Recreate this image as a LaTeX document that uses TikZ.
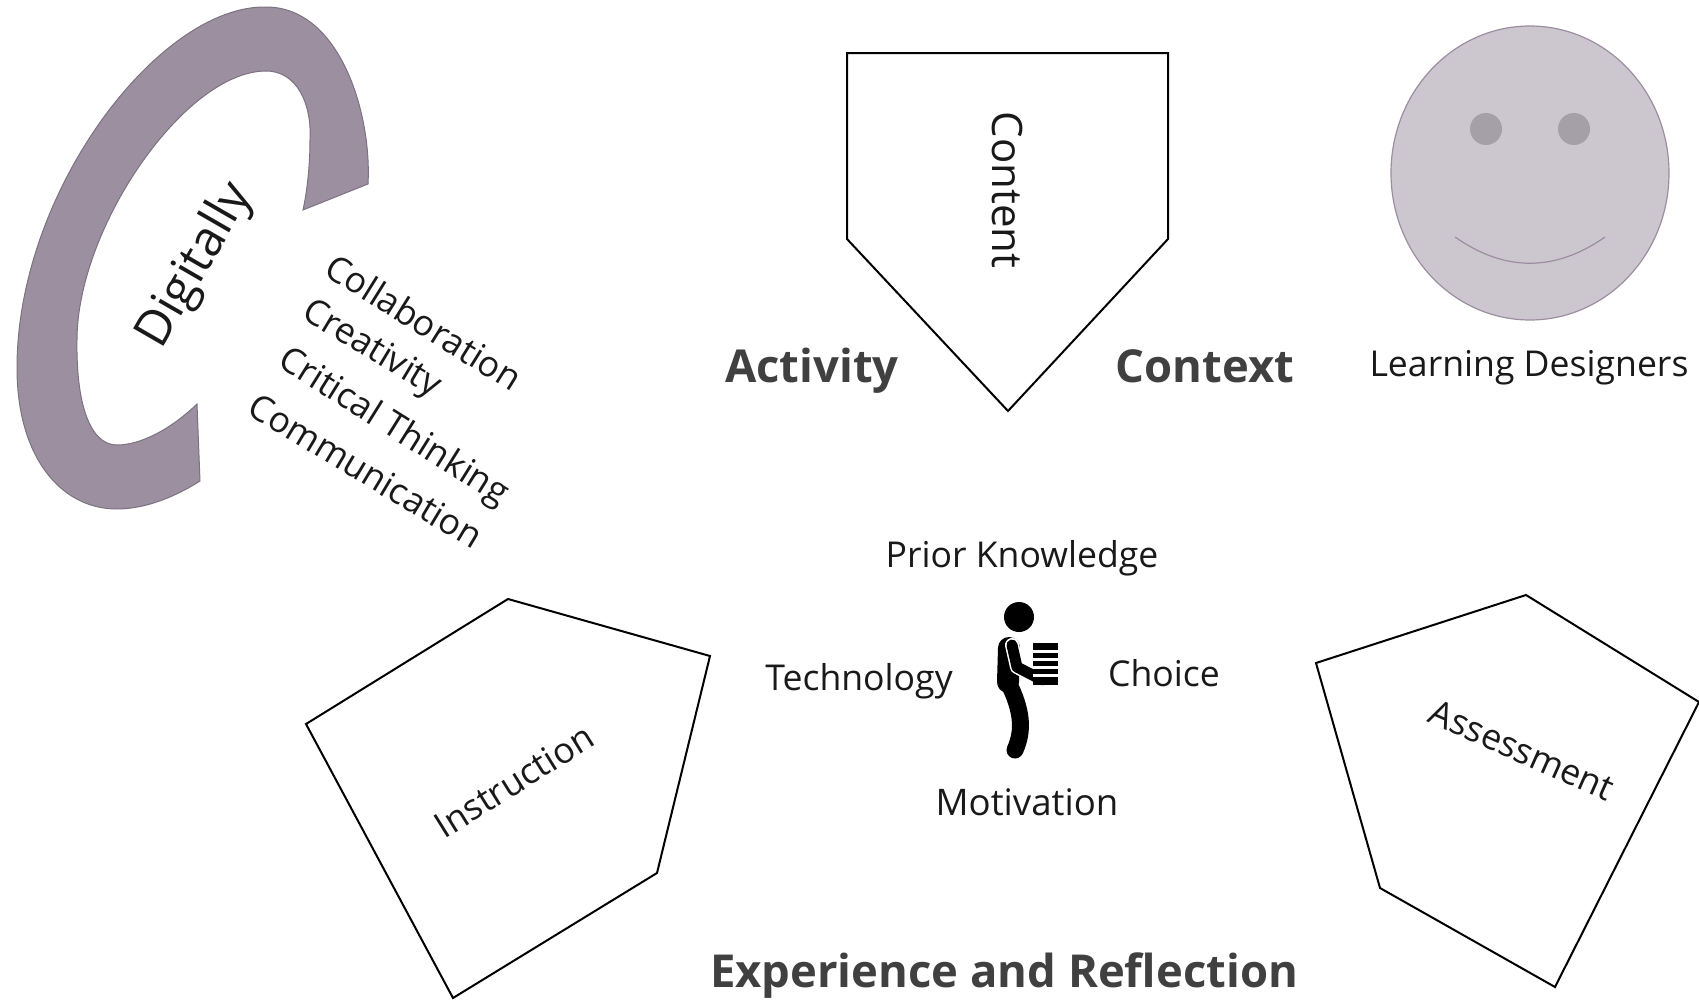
\documentclass[tikz,border=0pt]{standalone}
\usepackage{fontspec}
\setmainfont{Open Sans}
\definecolor{ringfill}{HTML}{9B8FA0}
\definecolor{facefill}{HTML}{CCC7CF}
\definecolor{faceline}{HTML}{9C8EA0}
\definecolor{eyefill}{HTML}{A59FA8}
\begin{document}
\begin{tikzpicture}[x=.5pt,y=-.5pt,
    lbl/.style={font=\fontsize{17.8}{21}\selectfont,text=black!90,inner sep=0},
    skill/.style={font=\fontsize{17.8}{21}\selectfont,text=black!90,inner sep=0},
    head/.style={font=\fontsize{22.7}{27}\bfseries\selectfont,text=black!75,inner sep=0},
    pent/.style={draw=black,line width=1pt,line join=miter},
    limb/.style={line width=8.5pt,line cap=round,line join=round}]
      \useasboundingbox (0,0) rectangle (1699,1001);
      % digitally ring
      \draw[fill=ringfill,draw=ringfill!80!black,line width=.5pt]
        (368,184)
        .. controls (372,114) and (340,7) .. (266,7)
        .. controls (160,5) and (17,190) .. (17,368)
        .. controls (17,456) and (60,509) .. (117,509)
        .. controls (145,509) and (175,497) .. (200,481)
        -- (197,404)
        .. controls (170,430) and (140,445) .. (117,445)
        .. controls (90,445) and (76,404) .. (77,340)
        .. controls (77,228) and (185,71) .. (266,71)
        .. controls (297,71) and (312,104) .. (310,140)
        .. controls (310,166) and (307,192) .. (303,210)
        -- cycle;
      \node[lbl,rotate=60,font=\fontsize{24.5}{29}\selectfont] (digitally) at (196,266) {Digitally};
      \node[skill,rotate=-32] (collab) at (424,322) {Collaboration};
      \node[skill,rotate=-31] (creat) at (371,350) {Creativity};
      \node[skill,rotate=-32] (critical) at (393,428) {Critical Thinking};
      \node[skill,rotate=-31] (commun) at (366,471) {Communication};
      % the three shapes
      \draw[pent] (847,53) -- (1168,53) -- (1168,239) -- (1008,411) -- (847,239) -- cycle;
      \draw[pent] (508,599) -- (710,656) -- (657,873) -- (453,998) -- (306,724) -- cycle;
      \draw[pent] (1526,595) -- (1699,702) -- (1555,987) -- (1380,888) -- (1316,663) -- cycle;
      \node[lbl,rotate=-90,font=\fontsize{21}{25}\selectfont] (content) at (1007,190) {Content};
      \node[lbl,rotate=32] (instruction) at (514,781) {Instruction};
      \node[lbl,rotate=-24] (assessment) at (1522,750) {Assessment};
      % face
      \draw[fill=facefill,draw=faceline,line width=.6pt] (1530,173) ellipse (139 and 147);
      \fill[eyefill] (1486,129) circle (16) (1574,129) circle (16);
      \draw[faceline,line width=.6pt] (1455,237) .. controls (1505,272) and (1555,272) .. (1605,237);
      \node[lbl] (designers) at (1529,368) {Learning Designers};
      % person with books
      \fill (1019,617) circle (15);
      \draw[limb,line width=11pt] (1009,648) -- (1008,682);
      \draw[limb] (1008,682) .. controls (1022,710) and (1024,730) .. (1015,750);
      \draw[line width=7pt,white,line cap=round,line join=round] (1012,645) -- (1017,667) -- (1042,680);
      \draw[line width=5.5pt,line cap=round,line join=round] (1012,645) -- (1017,667) -- (1042,680);
      \fill (1033,643) rectangle (1058,685);
      \foreach \stripe in {650,658,666,674}
        \fill[white] (1033,\stripe) rectangle (1058,\stripe+2.5);
      \node[lbl] (prior) at (1022,558) {Prior Knowledge};
      \node[lbl] (technology) at (859,681) {Technology};
      \node[lbl] (choice) at (1164,673) {Choice};
      \node[lbl,font=\fontsize{18.3}{22}\selectfont] (motivation) at (1027,802) {Motivation};
      % headings
      \node[head] (activity) at (812,371) {Activity};
      \node[head] (context) at (1205,366) {Context};
      \node[head] (experience) at (1004,976) {Experience and Reflection};
    \end{tikzpicture}
\end{document}
